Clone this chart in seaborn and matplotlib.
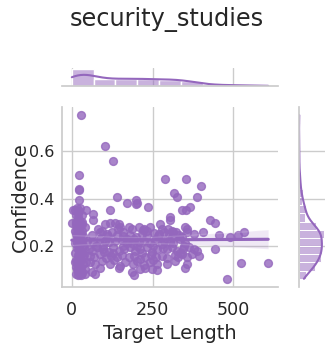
import matplotlib
matplotlib.use("Agg")
import matplotlib.pyplot as plt
import seaborn as sns
import pandas as pd

# Dense column of short targets
column_x = [5, 0, 10, 12, 15, 18, 20, 22, 25, 14, 17, 19, 23, 27, 12, 16, 20, 24, 28, 13,
            18, 22, 26, 30, 15, 11, 19, 23, 27, 14, 17, 21, 25, 29, 13, 16, 20, 24, 28, 32,
            18, 35, 38, 34, 36, 40, 32, 30, 26, 22, 33, 31, 37, 12, 15, 10, 9, 11, 14, 26,
            42, 45, 40, 36, 30, 21, 25, 19]
column_y = [0.35, 0.296, 0.35, 0.33, 0.36, 0.34, 0.32, 0.31, 0.30, 0.29, 0.28, 0.27, 0.26, 0.25, 0.25, 0.24, 0.23, 0.22, 0.21, 0.22,
            0.20, 0.19, 0.18, 0.17, 0.19, 0.17, 0.16, 0.15, 0.14, 0.14, 0.13, 0.12, 0.11, 0.10, 0.11, 0.10, 0.09, 0.08, 0.075, 0.085,
            0.075, 0.12, 0.16, 0.20, 0.24, 0.28, 0.30, 0.33, 0.36, 0.345, 0.26, 0.22, 0.19, 0.30, 0.27, 0.21, 0.26, 0.13, 0.08, 0.095,
            0.10, 0.13, 0.08, 0.15, 0.29, 0.21, 0.17, 0.11]

# Main cluster
cluster_x = [67, 117, 303, 303, 341, 352, 367,
             65, 103, 119, 134, 145, 150, 178, 207, 225, 243, 274, 279, 310, 323, 351, 358,
             62, 86, 93, 108, 124, 139, 160, 181, 199, 217, 232, 255, 269, 284, 300, 313, 331, 341, 358, 377, 405,
             46, 67, 88, 103, 114, 134, 155, 170, 191, 207, 222, 243, 258, 284, 305, 336, 351,
             52, 62, 77, 98, 114, 129, 145, 162, 181, 196, 212, 232, 248, 263, 296, 310, 325, 344, 362, 377, 387, 393,
             57, 70, 88, 106, 121, 139, 155, 176, 191, 210, 227, 246, 261, 279, 294, 320, 336, 356, 372,
             57, 72, 93, 119, 150, 165, 189, 203, 222, 243, 265, 294, 320, 356,
             62, 72, 88, 145, 186, 191, 212, 227, 248, 265, 350]
cluster_y = [0.336, 0.35, 0.321, 0.307, 0.35, 0.35, 0.364,
             0.31, 0.293, 0.296, 0.296, 0.29, 0.279, 0.279, 0.281, 0.271, 0.281, 0.29, 0.271, 0.264, 0.257, 0.279, 0.271,
             0.243, 0.257, 0.26, 0.25, 0.257, 0.243, 0.257, 0.243, 0.236, 0.25, 0.243, 0.253, 0.25, 0.257, 0.25, 0.257, 0.246, 0.236, 0.257, 0.25, 0.257,
             0.221, 0.214, 0.229, 0.221, 0.214, 0.221, 0.224, 0.21, 0.229, 0.214, 0.221, 0.21, 0.224, 0.221, 0.214, 0.229, 0.21,
             0.186, 0.179, 0.193, 0.186, 0.171, 0.193, 0.179, 0.186, 0.193, 0.176, 0.186, 0.193, 0.171, 0.186, 0.186, 0.193, 0.179, 0.186, 0.193, 0.186, 0.179, 0.157,
             0.157, 0.15, 0.164, 0.147, 0.157, 0.15, 0.161, 0.15, 0.157, 0.143, 0.153, 0.161, 0.15, 0.157, 0.147, 0.161, 0.167, 0.15, 0.164,
             0.129, 0.121, 0.133, 0.124, 0.114, 0.129, 0.121, 0.133, 0.119, 0.129, 0.121, 0.124, 0.133, 0.121,
             0.086, 0.079, 0.107, 0.107, 0.086, 0.076, 0.1, 0.107, 0.1, 0.096, 0.103]

# Extra points filling the main cluster
cluster2_x = [80, 96, 112, 128, 143, 158, 172, 187, 203, 218, 234, 250, 266, 282, 298, 314, 330, 346,
              130, 160, 190, 220, 250, 280, 310, 340, 75, 100]
cluster2_y = [0.27, 0.2, 0.24, 0.17, 0.27, 0.2, 0.23, 0.27, 0.2, 0.17, 0.26, 0.2, 0.24, 0.19, 0.27, 0.21, 0.15, 0.2,
              0.14, 0.24, 0.205, 0.265, 0.14, 0.205, 0.235, 0.165, 0.2, 0.175]

# Scattered outliers
outlier_x = [28, 103, 127, 21, 21, 23, 141, 287, 352, 399, 315, 325, 387, 171, 200, 203, 198, 236, 43, 21,
             429, 442, 455, 491, 514, 534, 443, 525, 608, 480]
outlier_y = [0.754, 0.621, 0.561, 0.50, 0.44, 0.437, 0.407, 0.484, 0.484, 0.453, 0.424, 0.407, 0.407, 0.379, 0.393, 0.381, 0.376, 0.364, 0.35, 0.393,
             0.31, 0.296, 0.247, 0.236, 0.247, 0.258, 0.184, 0.127, 0.127, 0.059]

title = "security_studies"
x_label = "Target Length"
y_label = "Confidence"
x_ticks = [0, 250, 500]
y_ticks = [0.2, 0.4, 0.6]

df = pd.DataFrame({
    x_label: column_x + cluster_x + cluster2_x + outlier_x,
    y_label: column_y + cluster_y + cluster2_y + outlier_y,
})

sns.set_theme(style="whitegrid")
plt.rcParams["font.family"] = ["DejaVu Sans"]

g = sns.jointplot(data=df, x=x_label, y=y_label, kind="reg", color="tab:purple",
                  height=3.47, scatter_kws={"s": 32})
fig = g.figure
fig.set_size_inches(3.33, 3.47)
fig.set_dpi(100)

W, H = 333.0, 347.0
g.ax_joint.set_position([62 / W, (H - 287) / H, 216 / W, 180 / H])
g.ax_marg_x.set_position([62 / W, (H - 86) / H, 216 / W, 18 / H])
g.ax_marg_y.set_position([299 / W, (H - 287) / H, 26 / W, 180 / H])

g.ax_joint.set_xticks(x_ticks)
g.ax_joint.set_yticks(y_ticks)
g.ax_joint.set_xlabel(x_label, fontsize=14)
g.ax_joint.set_ylabel(y_label, fontsize=14)
g.ax_joint.tick_params(axis="x", labelsize=12.6, pad=4)
g.ax_joint.tick_params(axis="y", labelsize=11.5, length=0, pad=5.5)
g.ax_joint.yaxis.set_label_coords((30 - 62) / 216, 0.5)

fig.suptitle(title, fontsize=17.3, y=1 - 19 / H, va="center")

fig.savefig("out.png", dpi=100)
